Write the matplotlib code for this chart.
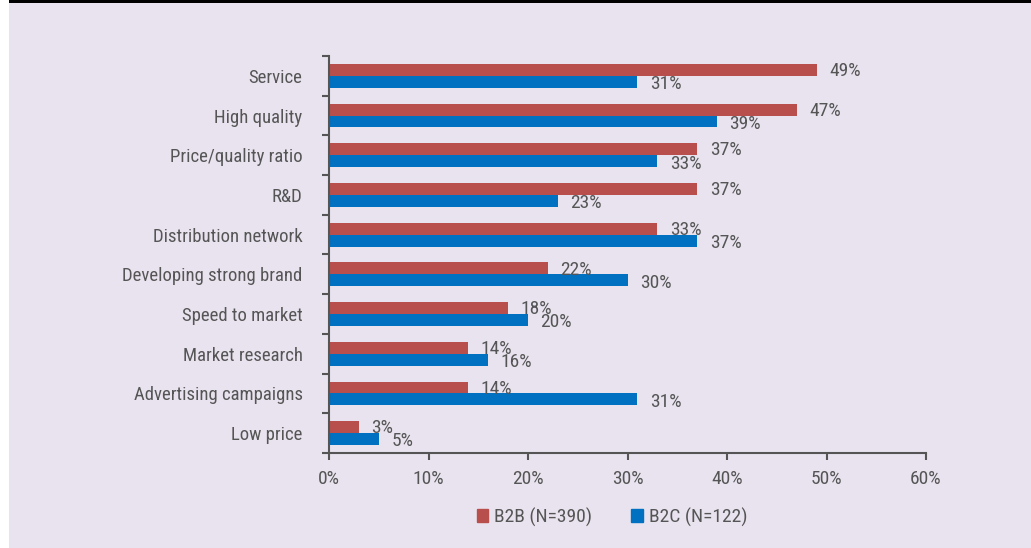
import matplotlib
matplotlib.use('Agg')
import matplotlib.pyplot as plt
from matplotlib.patches import Rectangle, Patch

plt.rcParams['font.family'] = ['Liberation Sans Narrow', 'DejaVu Sans Condensed',
                               'Roboto Condensed', 'DejaVu Sans']
plt.rcParams['font.stretch'] = 'condensed'

categories = ['Service', 'High quality', 'Price/quality ratio', 'R&D',
              'Distribution network', 'Developing strong brand',
              'Speed to market', 'Market research', 'Advertising campaigns',
              'Low price']
b2b = [49, 47, 37, 37, 33, 22, 18, 14, 14, 3]
b2c = [31, 39, 33, 23, 37, 30, 20, 16, 31, 5]
series_names = ['B2B (N=390)', 'B2C (N=122)']
x_ticks = [0, 10, 20, 30, 40, 50, 60]

bg = '#e9e3ef'
red = '#b94f4c'
blue = '#0070c0'
grey = '#555555'

fig = plt.figure(figsize=(10.31, 5.48), dpi=100, facecolor=bg)
# white strip on the left and black rule across the top
fig.patches.append(Rectangle((0, 0), 9 / 1031, 1, transform=fig.transFigure,
                             facecolor='white', edgecolor='none', zorder=0))
fig.patches.append(Rectangle((9 / 1031, 1 - 3 / 548), 1, 3 / 548,
                             transform=fig.transFigure, facecolor='black',
                             edgecolor='none', zorder=0))

ax = fig.add_axes([329 / 1031, 1 - 453 / 548, (926 - 329) / 1031, (453 - 56) / 548])
ax.set_facecolor(bg)

h = 0.3
pos = list(range(len(categories)))
ax.barh([p - h / 2 for p in pos], b2b, height=h, color=red, label=series_names[0])
ax.barh([p + h / 2 for p in pos], b2c, height=h, color=blue, label=series_names[1])

for p, v in zip(pos, b2b):
    ax.annotate(f'{v}%', (v, p - h / 2 + 0.03), xytext=(9, 0), textcoords='offset points',
                va='center', ha='left', fontsize=14, color=grey)
for p, v in zip(pos, b2c):
    ax.annotate(f'{v}%', (v, p + h / 2 + 0.06), xytext=(9, 0), textcoords='offset points',
                va='center', ha='left', fontsize=14, color=grey)

ax.set_xlim(0, 60)
ax.set_ylim(len(categories) - 0.5, -0.5)
ax.set_xticks(x_ticks)
ax.set_xticklabels([f'{t}%' for t in x_ticks])

# separator ticks between categories, names at the centres
ax.set_yticks([p - 0.5 for p in range(len(categories) + 1)])
ax.set_yticklabels([])
ax.set_yticks(pos, minor=True)
ax.set_yticklabels(categories, minor=True)
ax.tick_params(axis='y', which='minor', length=0, pad=19, labelsize=13.5, labelcolor=grey)
ax.tick_params(axis='y', which='major', length=5, width=1.5, color=grey)
ax.tick_params(axis='x', length=5, width=1.5, color=grey, labelsize=14,
               labelcolor=grey, pad=7)

for s in ['top', 'right']:
    ax.spines[s].set_visible(False)
for s in ['left', 'bottom']:
    ax.spines[s].set_color(grey)
    ax.spines[s].set_linewidth(1.5)

handles = [Patch(color=red), Patch(color=blue)]
fig.legend(handles, series_names, loc='center', bbox_to_anchor=(612 / 1031, 1 - 517 / 548),
           ncol=2, frameon=False, fontsize=14, labelcolor=grey,
           handlelength=0.6, handleheight=0.6, handletextpad=0.3, columnspacing=2.0)

fig.savefig('out.png', dpi=100, facecolor=bg)
